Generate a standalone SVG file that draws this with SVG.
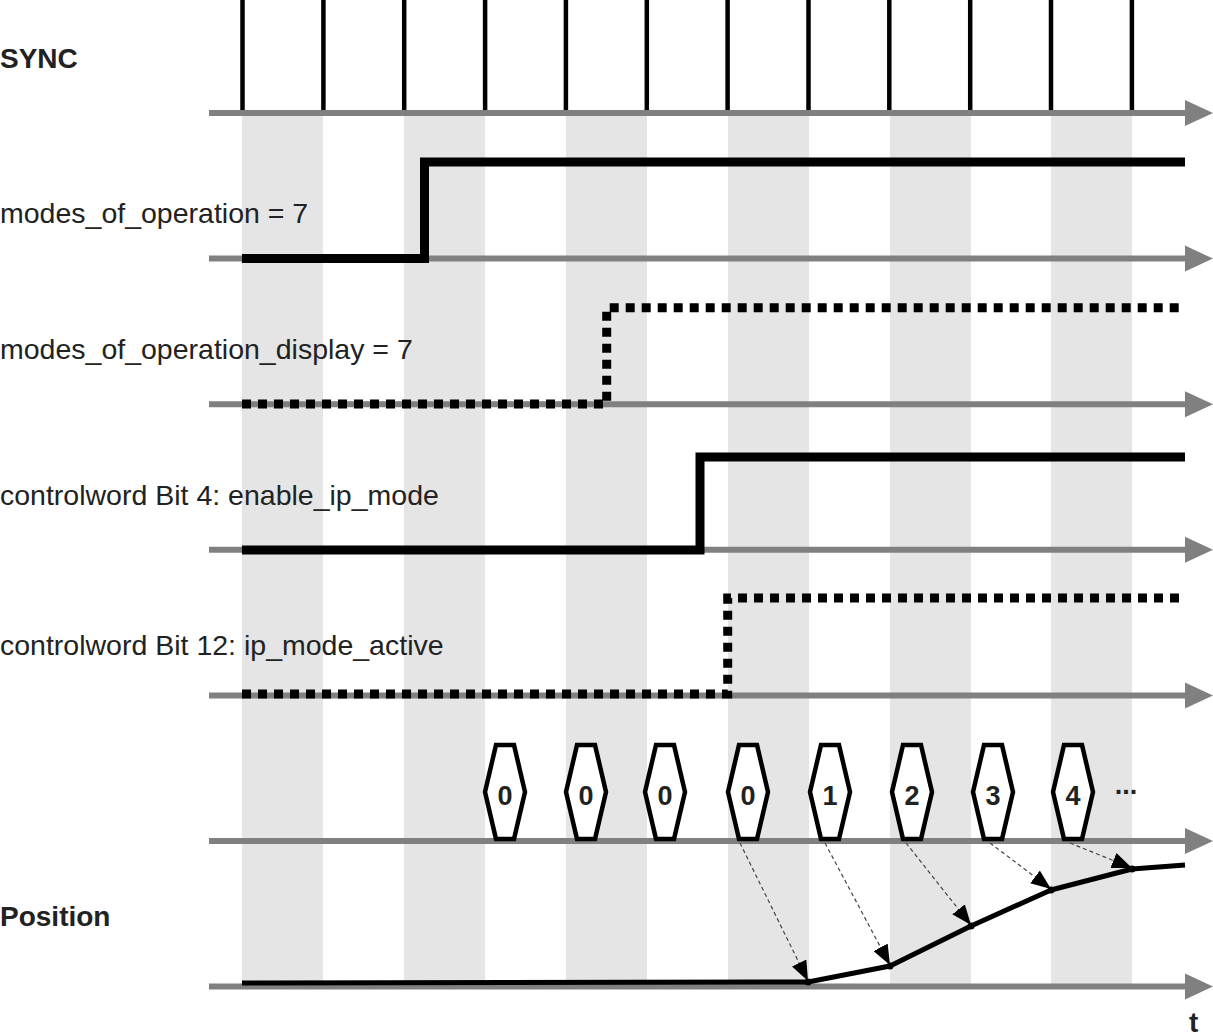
<svg xmlns="http://www.w3.org/2000/svg" width="1213" height="1036" viewBox="0 0 1213 1036">
<style>
.band{fill:#e5e5e5}
.axis{stroke:#808080;stroke-width:6;fill:none}
.ahead{fill:#808080}
.tick{stroke:#000;stroke-width:4.5}
.sig{stroke:#000;stroke-width:9;fill:none;stroke-linejoin:miter;stroke-linecap:butt}
.dot{stroke:#000;stroke-width:9;fill:none;stroke-dasharray:9 7}
.lbl{font-family:"Liberation Sans",Arial,sans-serif;font-size:28.5px;fill:#222}
.b{font-weight:bold;font-size:28px}
.hex{fill:#fff;stroke:#000;stroke-width:4.5;stroke-linejoin:miter}
.num{font-family:"Liberation Sans",Arial,sans-serif;font-size:27px;font-weight:bold;fill:#222;text-anchor:middle}
.pos{stroke:#000;stroke-width:5;fill:none;stroke-linejoin:round}
.dash{stroke:#444;stroke-width:1.2;stroke-dasharray:4 3;fill:none}
</style>
<defs>
<marker id="ah" markerUnits="userSpaceOnUse" viewBox="0 0 20 16" markerWidth="20" markerHeight="16" refX="20" refY="8" orient="auto">
<path d="M0,0 L20,8 L0,16 Z" fill="#000"/>
</marker>
</defs>
<g id="bands">
<rect class="band" x="242" y="113" width="81" height="874"/>
<rect class="band" x="404" y="113" width="81" height="874"/>
<rect class="band" x="566" y="113" width="81" height="874"/>
<rect class="band" x="728" y="113" width="81" height="874"/>
<rect class="band" x="890" y="113" width="81" height="874"/>
<rect class="band" x="1051" y="113" width="81" height="874"/>
</g>
<g id="sync-ticks">
<line class="tick" x1="242.5" y1="0" x2="242.5" y2="113"/>
<line class="tick" x1="323.4" y1="0" x2="323.4" y2="113"/>
<line class="tick" x1="404.2" y1="0" x2="404.2" y2="113"/>
<line class="tick" x1="485.1" y1="0" x2="485.1" y2="113"/>
<line class="tick" x1="565.9" y1="0" x2="565.9" y2="113"/>
<line class="tick" x1="646.8" y1="0" x2="646.8" y2="113"/>
<line class="tick" x1="727.6" y1="0" x2="727.6" y2="113"/>
<line class="tick" x1="808.5" y1="0" x2="808.5" y2="113"/>
<line class="tick" x1="889.3" y1="0" x2="889.3" y2="113"/>
<line class="tick" x1="970.2" y1="0" x2="970.2" y2="113"/>
<line class="tick" x1="1051" y1="0" x2="1051" y2="113"/>
<line class="tick" x1="1131.9" y1="0" x2="1131.9" y2="113"/>
</g>
<g id="axes">
<line class="axis" x1="209" y1="113" x2="1190" y2="113"/><path class="ahead" d="M1185,100 L1213,113 L1185,126 Z"/>
<line class="axis" x1="209" y1="258.6" x2="1190" y2="258.6"/><path class="ahead" d="M1185,245.6 L1213,258.6 L1185,271.6 Z"/>
<line class="axis" x1="209" y1="404.2" x2="1190" y2="404.2"/><path class="ahead" d="M1185,391.2 L1213,404.2 L1185,417.2 Z"/>
<line class="axis" x1="209" y1="549.8" x2="1190" y2="549.8"/><path class="ahead" d="M1185,536.8 L1213,549.8 L1185,562.8 Z"/>
<line class="axis" x1="209" y1="695.4" x2="1190" y2="695.4"/><path class="ahead" d="M1185,682.4 L1213,695.4 L1185,708.4 Z"/>
<line class="axis" x1="209" y1="841" x2="1190" y2="841"/><path class="ahead" d="M1185,828 L1213,841 L1185,854 Z"/>
<line class="axis" x1="209" y1="986.6" x2="1190" y2="986.6"/><path class="ahead" d="M1185,973.6 L1213,986.6 L1185,999.6 Z"/>
</g>
<g id="labels">
<text class="lbl b" x="0" y="68">SYNC</text>
<text class="lbl" x="0" y="223">modes_of_operation = 7</text>
<text class="lbl" x="0" y="359">modes_of_operation_display = 7</text>
<text class="lbl" x="0" y="505">controlword Bit 4: enable_ip_mode</text>
<text class="lbl" x="0" y="655">controlword Bit 12: ip_mode_active</text>
<text class="lbl b" x="0" y="926">Position</text>
<text class="lbl b" x="1189" y="1032">t</text>
</g>
<g id="signals">
<polyline id="mode" class="sig" points="242,258.6 424.5,258.6 424.5,162 1185,162"/>
<polyline id="mode-display" class="dot" points="242,404 606.7,404 606.7,307.7 1185,307.7"/>
<polyline id="enable-ip" class="sig" points="242,550 700,550 700,457 1185,457"/>
<polyline id="ip-active" class="dot" points="242,694 727.7,694 727.7,598 1185,598"/>
</g>
<g id="setpoints">
<g id="sp1"><polygon class="hex" points="496,745 514,745 525,792 514,839 496,839 485,792"/><text class="num" x="505" y="805">0</text></g>
<g id="sp2"><polygon class="hex" points="577,745 595,745 606,792 595,839 577,839 566,792"/><text class="num" x="586" y="805">0</text></g>
<g id="sp3"><polygon class="hex" points="656,745 674,745 685,792 674,839 656,839 645,792"/><text class="num" x="665" y="805">0</text></g>
<g id="sp4"><polygon class="hex" points="739,745 757,745 768,792 757,839 739,839 728,792"/><text class="num" x="748" y="805">0</text></g>
<g id="sp5"><polygon class="hex" points="821,745 839,745 850,792 839,839 821,839 810,792"/><text class="num" x="830" y="805">1</text></g>
<g id="sp6"><polygon class="hex" points="903,745 921,745 932,792 921,839 903,839 892,792"/><text class="num" x="912" y="805">2</text></g>
<g id="sp7"><polygon class="hex" points="984,745 1002,745 1013,792 1002,839 984,839 973,792"/><text class="num" x="993" y="805">3</text></g>
<g id="sp8"><polygon class="hex" points="1064,745 1082,745 1093,792 1082,839 1064,839 1053,792"/><text class="num" x="1073" y="805">4</text></g>
<text class="num" x="1126" y="794">...</text>
</g>
<g id="position">
<polyline class="pos" points="242,983 808,982 890,966 971,926 1051,890 1132,869 1185,865"/>
<circle cx="808" cy="982" r="3.5"/>
<circle cx="890" cy="966" r="3.5"/>
<circle cx="971" cy="926" r="3.5"/>
<circle cx="1051" cy="890" r="3.5"/>
<circle cx="1132" cy="869" r="3.5"/>
</g>
<g id="connectors">
<line class="dash" x1="740" y1="843" x2="808" y2="981" marker-end="url(#ah)"/>
<line class="dash" x1="825" y1="843" x2="890" y2="965" marker-end="url(#ah)"/>
<line class="dash" x1="906" y1="843" x2="971" y2="925" marker-end="url(#ah)"/>
<line class="dash" x1="990" y1="843" x2="1051" y2="889" marker-end="url(#ah)"/>
<line class="dash" x1="1070" y1="843" x2="1132" y2="868" marker-end="url(#ah)"/>
</g>
</svg>
